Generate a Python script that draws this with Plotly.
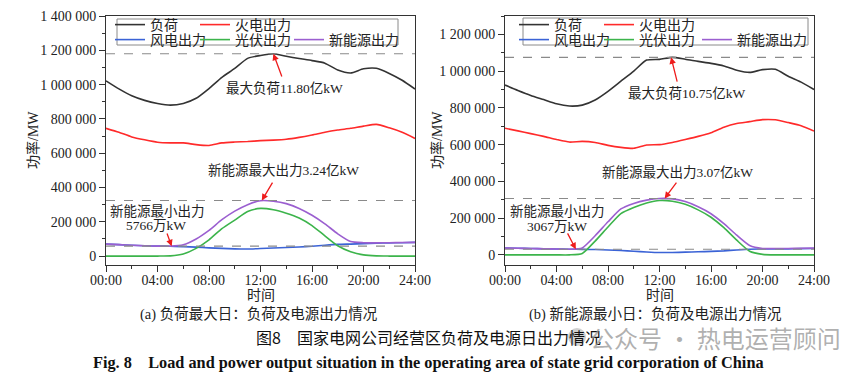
import plotly.graph_objects as go

W, H = 865, 375

HOURS = list(range(25))
X_TICK_VALS = [0, 4, 8, 12, 16, 20, 24]
X_TICK_TEXT = ["00:00", "04:00", "08:00", "12:00", "16:00", "20:00", "24:00"]

SERIES_NAMES = ["负荷", "火电出力", "风电出力", "光伏出力", "新能源出力"]
SERIES_COLORS = ["#333333", "#ff2a2a", "#3b63d6", "#3cb44b", "#9b5fd0"]

# ---- (a) 负荷最大日 ----
LOAD_A = [1022000, 975000, 935000, 908000, 890000, 880000, 890000, 920000, 977000, 1042000,
          1094000, 1153000, 1170000, 1180000, 1165000, 1152000, 1140000, 1125000, 1085000,
          1068000, 1092000, 1095000, 1065000, 1025000, 974000]
THERMAL_A = [745000, 722000, 695000, 678000, 664000, 660000, 660000, 650000, 645000, 660000,
             665000, 668000, 673000, 676000, 681000, 692000, 706000, 722000, 735000, 745000,
             758000, 768000, 748000, 722000, 686000]
WIND_A = [70000, 67000, 63000, 60000, 58000, 57700, 55000, 52000, 48000, 45000, 42000, 41000,
          44000, 47000, 50000, 53000, 57000, 63000, 68000, 70000, 72000, 75000, 77000, 78000, 80000]
SOLAR_A = [0, 0, 0, 0, 0, 1000, 12000, 45000, 95000, 160000, 210000, 260000, 278000, 270000,
           250000, 222000, 178000, 118000, 60000, 25000, 7000, 1000, 0, 0, 0]
NEW_A = [70000, 67000, 63000, 60000, 58000, 57700, 66000, 100000, 150000, 212000, 262000,
         300000, 323000, 320000, 306000, 278000, 238000, 188000, 130000, 85000, 78000, 77000,
         78000, 79000, 80000]
PEAK_LOAD_A, PEAK_LOAD_A_H = 1180000, 13.0
PEAK_NEW_A, PEAK_NEW_A_H = 324000, 12.1
MIN_NEW_A, MIN_NEW_A_H = 57660, 5.1

# ---- (b) 新能源最小日 ----
LOAD_B = [924000, 895000, 868000, 845000, 822000, 810000, 815000, 843000, 890000, 945000,
          1000000, 1060000, 1064000, 1075000, 1065000, 1053000, 1042000, 1028000, 1005000,
          993000, 1008000, 1010000, 972000, 940000, 900000]
THERMAL_B = [689000, 675000, 660000, 645000, 628000, 614000, 618000, 612000, 596000, 585000,
             580000, 598000, 600000, 612000, 628000, 645000, 665000, 695000, 715000, 725000,
             736000, 735000, 720000, 703000, 674000]
WIND_B = [37000, 36000, 35000, 33000, 32000, 31000, 30000, 29000, 27000, 24000, 20000, 16000,
          13000, 13000, 15000, 17000, 19000, 22000, 27000, 31000, 32000, 33000, 33000, 34000, 35000]
SOLAR_B = [0, 0, 0, 0, 0, 0, 8000, 75000, 152000, 225000, 258000, 282000, 296000, 292000,
           275000, 245000, 205000, 148000, 80000, 20000, 3000, 0, 0, 0, 0]
NEW_B = [37000, 36000, 35000, 33000, 32000, 30700, 38000, 104000, 180000, 250000, 280000,
         298000, 307000, 305000, 290000, 262000, 224000, 170000, 107000, 51000, 35000, 35000,
         35000, 36000, 37000]
PEAK_LOAD_B, PEAK_LOAD_B_H = 1075000, 12.9
PEAK_NEW_B, PEAK_NEW_B_H = 307000, 12.4
MIN_NEW_B, MIN_NEW_B_H = 30670, 5.5

Y_TICKS_A = [0, 200000, 400000, 600000, 800000, 1000000, 1200000, 1400000]
Y_TICKS_B = [0, 200000, 400000, 600000, 800000, 1000000, 1200000]
Y_LABELS_A = ["0", "200 000", "400 000", "600 000", "800 000", "1 000 000", "1 200 000", "1 400 000"]
Y_LABELS_B = ["0", "200 000", "400 000", "600 000", "800 000", "1 000 000", "1 200 000"]

SERIF = "Liberation Serif, Noto Sans CJK SC, serif"
CJK = "Noto Sans CJK SC, sans-serif"


def px_x(p):
    return p / W


def px_y(p):
    return 1 - p / H


fig = go.Figure()

panels = [
    dict(xa="x", ya="y", data=[LOAD_A, THERMAL_A, WIND_A, SOLAR_A, NEW_A], leg0=1,
         legpos=[(110, 25), (195, 25), (110, 40), (195, 40), (289, 40)]),
    dict(xa="x2", ya="y2", data=[LOAD_B, THERMAL_B, WIND_B, SOLAR_B, NEW_B], leg0=6,
         legpos=[(514, 25), (599, 25), (514, 40), (599, 40), (697, 40)]),
]

legend_layouts = {}
for p in panels:
    for i, (name, color, ys) in enumerate(zip(SERIES_NAMES, SERIES_COLORS, p["data"])):
        lk = "legend" if p["leg0"] + i == 1 else "legend%d" % (p["leg0"] + i)
        fig.add_trace(go.Scatter(
            x=HOURS, y=ys, name=name, mode="lines", xaxis=p["xa"], yaxis=p["ya"],
            line=dict(color=color, width=1.6, shape="spline", smoothing=0.6),
            legend=lk, showlegend=True, hoverinfo="skip"))
        lx, ly = p["legpos"][i]
        legend_layouts[lk] = dict(
            x=px_x(lx), y=px_y(ly), xanchor="left", yanchor="middle",
            bgcolor="rgba(0,0,0,0)", borderwidth=0,
            font=dict(family=CJK, size=14, color="#222"),
            itemwidth=30, orientation="v", tracegroupgap=0)

axis_common = dict(
    showgrid=False, zeroline=False, showline=True, linecolor="#333", linewidth=1,
    mirror=True, ticks="outside", ticklen=6, tickcolor="#333", tickwidth=1,
    automargin=False,
    tickfont=dict(family=SERIF, size=14, color="#222"))

dom_y = [px_y(265), px_y(16)]

fig.update_layout(
    width=W, height=H, margin=dict(l=0, r=0, t=0, b=0, autoexpand=False),
    paper_bgcolor="white", plot_bgcolor="white",
    xaxis=dict(domain=[px_x(106), px_x(415)], range=[0, 24], anchor="y",
               tickmode="array", tickvals=X_TICK_VALS, ticktext=X_TICK_TEXT,
               ticklabelstandoff=-4,
               minor=dict(tickmode="linear", tick0=0, dtick=2, ticks="outside", ticklen=3,
                          tickcolor="#333"),
               **axis_common),
    yaxis=dict(domain=dom_y, range=[-52000, 1400000], anchor="x",
               tickmode="array", tickvals=Y_TICKS_A, ticktext=Y_LABELS_A,
               minor=dict(tickmode="linear", tick0=0, dtick=100000, ticks="outside", ticklen=3,
                          tickcolor="#333"),
               **axis_common),
    xaxis2=dict(domain=[px_x(505), px_x(814)], range=[0, 24], anchor="y2",
                tickmode="array", tickvals=X_TICK_VALS, ticktext=X_TICK_TEXT,
                ticklabelstandoff=-4,
                minor=dict(tickmode="linear", tick0=0, dtick=2, ticks="outside", ticklen=3,
                           tickcolor="#333"),
                **axis_common),
    yaxis2=dict(domain=dom_y, range=[-55000, 1300000], anchor="x2",
                tickmode="array", tickvals=Y_TICKS_B, ticktext=Y_LABELS_B,
                minor=dict(tickmode="linear", tick0=0, dtick=100000, ticks="outside", ticklen=3,
                           tickcolor="#333"),
                **axis_common),
    **legend_layouts,
)

shapes = []
for (x0, x1, y0, y1) in [(117, 398, 19, 45), (523, 808, 18, 45)]:
    shapes.append(dict(type="rect", xref="paper", yref="paper", x0=px_x(x0), x1=px_x(x1),
                       y0=px_y(y1), y1=px_y(y0), line=dict(color="#8a8a8a", width=1)))
for xa, ya, vals in [("x", "y", [PEAK_LOAD_A, PEAK_NEW_A, MIN_NEW_A]),
                     ("x2", "y2", [PEAK_LOAD_B, PEAK_NEW_B, MIN_NEW_B])]:
    for v in vals:
        shapes.append(dict(type="line", xref=xa, yref=ya, x0=0, x1=24, y0=v, y1=v,
                           line=dict(color="#8a8a8a", width=1.2, dash="dash")))
shapes.append(dict(type="circle", xref="paper", yref="paper", x0=px_x(568), x1=px_x(586),
                   y0=px_y(346), y1=px_y(328), fillcolor="rgba(150,150,150,0.45)",
                   line=dict(width=0)))
fig.update_layout(shapes=shapes)

ann = []


def text(xref, yref, x, y, s, size=13.5, family=SERIF, color="#222", **kw):
    ann.append(dict(xref=xref, yref=yref, x=x, y=y, text=s, showarrow=False,
                    font=dict(family=family, size=size, color=color),
                    xanchor="center", yanchor="middle", **kw))


def arrow(xa, ya, hx, hy, tx, ty):
    ann.append(dict(xref=xa, yref=ya, x=hx, y=hy, axref=xa, ayref=ya, ax=tx, ay=ty,
                    text="", showarrow=True, arrowhead=2, arrowsize=1, arrowwidth=1.3,
                    arrowcolor="#ee1c1c", standoff=0, startstandoff=0))


text("x", "y", 13.9, 980000, "最大负荷11.80亿kW")
arrow("x", "y", PEAK_LOAD_A_H, PEAK_LOAD_A, 13.7, 1038000)
text("x", "y", 13.8, 502000, "新能源最大出力3.24亿kW")
arrow("x", "y", PEAK_NEW_A_H, PEAK_NEW_A, 13.0, 437000)
text("x", "y", 4.0, 262000, "新能源最小出力")
text("x", "y", 3.9, 181000, "5766万kW")
arrow("x", "y", MIN_NEW_A_H, MIN_NEW_A, 4.7, 140000)

text("x2", "y2", 14.1, 880000, "最大负荷10.75亿kW")
arrow("x2", "y2", PEAK_LOAD_B_H, PEAK_LOAD_B, 13.4, 935000)
text("x2", "y2", 13.4, 451000, "新能源最大出力3.07亿kW")
arrow("x2", "y2", PEAK_NEW_B_H, PEAK_NEW_B, 13.4, 402000)
text("x2", "y2", 4.1, 234000, "新能源最小出力")
text("x2", "y2", 4.0, 152000, "3067万kW")
arrow("x2", "y2", MIN_NEW_B_H, MIN_NEW_B, 4.8, 125000)

for cx in [33, 437]:
    text("paper", "paper", px_x(cx), px_y(140), "功率/MW", size=14, textangle=-90)
for cx in [260.5, 659.5]:
    text("paper", "paper", px_x(cx), px_y(295), "时间", size=14)

text("paper", "paper", px_x(259), px_y(314), "(a) 负荷最大日：负荷及电源出力情况", size=14.5)
text("paper", "paper", px_x(655), px_y(314), "(b) 新能源最小日：负荷及电源出力情况", size=14.5)
text("paper", "paper", px_x(428), px_y(337), "图8\u3000国家电网公司经营区负荷及电源日出力情况",
     size=16, family=CJK, color="#111")
text("paper", "paper", px_x(428), px_y(362),
     "<b>Fig. 8\u2003Load and power output situation in the operating area of state grid corporation of China</b>",
     size=16.3, color="#111")
text("paper", "paper", px_x(715), px_y(337), "公众号 · 热电运营顾问", size=24, family=CJK,
     color="rgba(150,150,150,0.75)")

fig.update_layout(annotations=ann)

fig.write_html("out.html", config={"displayModeBar": False},
               post_script="document.body.style.margin='0px';document.body.style.overflow='hidden';")
